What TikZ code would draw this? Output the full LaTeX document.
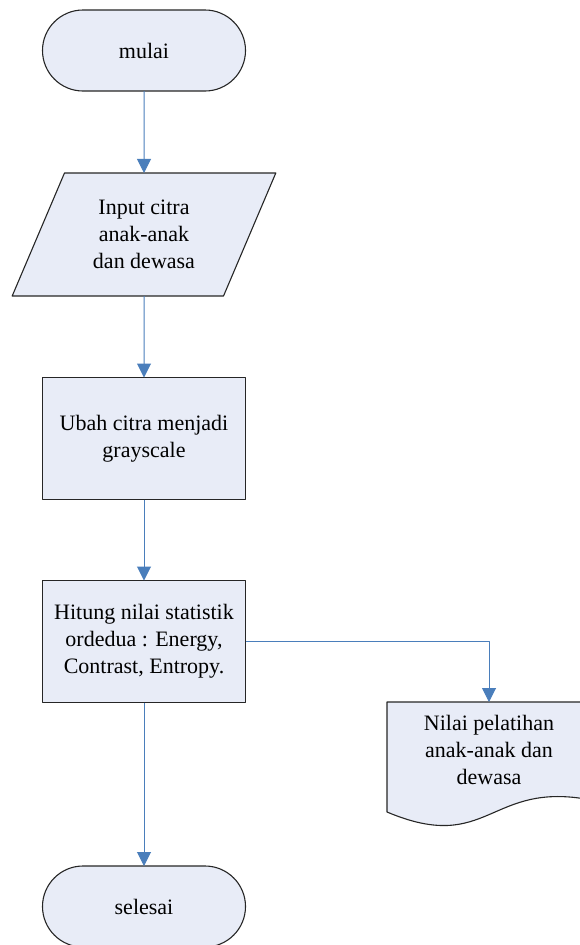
\documentclass[tikz,border=0pt]{standalone}
\usepackage{fontspec}
\setmainfont{Liberation Serif}
\usetikzlibrary{arrows.meta,shapes.geometric,shapes.misc}

\definecolor{boxfill}{RGB}{232,236,247}
\definecolor{flowblue}{RGB}{74,126,187}

\begin{document}
\begin{tikzpicture}[
    x=1pt, y=-1pt,
    line join=round,
    font=\fontsize{22}{27}\selectfont,
    box/.style={draw=black!85, fill=boxfill, line width=1.1pt,
      align=center, inner sep=0pt, outer sep=0pt},
    terminal/.style={box, rounded rectangle,
      minimum width=203pt, minimum height=81pt},
    process/.style={box, rectangle,
      minimum width=203pt, minimum height=122pt},
    io/.style={box, trapezium, trapezium stretches=true,
      trapezium left angle=64, trapezium right angle=116,
      minimum width=264pt, minimum height=123pt},
    flow/.style={draw=flowblue, line width=1pt,
      -{Triangle[length=14pt, width=14pt]}}
  ]

\useasboundingbox (0,0) rectangle (580,945);

% ============================================================
% MAIN COLUMN
% ============================================================
\node[terminal] (mulai) at (144,50.5) {mulai};

\node[io] (input) at (144,234.5) {Input citra\\anak-anak\\dan dewasa};

\node[process] (ubah) at (144,438.5) {Ubah citra menjadi\\grayscale};

\node[process] (hitung) at (144,641.5)
  {Hitung nilai statistik\\ordedua : Energy,\\Contrast, Entropy.};

\node[terminal] (selesai) at (144,906.5) {selesai};

% ============================================================
% DOCUMENT OUTPUT
% ============================================================
\coordinate (doctop) at (489,702);

\filldraw[draw=black!85, fill=boxfill, line width=1.1pt]
  (387,702) -- (591,702) -- (591,800)
  .. controls (489,780) and (489,855) .. (387,812) -- cycle;

\node[align=center] (nilai) at (489,750)
  {Nilai pelatihan\\anak-anak dan\\dewasa};

% connectors
\draw[flow] (mulai.south) -- (input.north);
\draw[flow] (input.south) -- (ubah.north);
\draw[flow] (ubah.south) -- (hitung.north);
\draw[flow] (hitung.south) -- (selesai.north);
\draw[flow] (hitung.east) -| (doctop);

\end{tikzpicture}
\end{document}
